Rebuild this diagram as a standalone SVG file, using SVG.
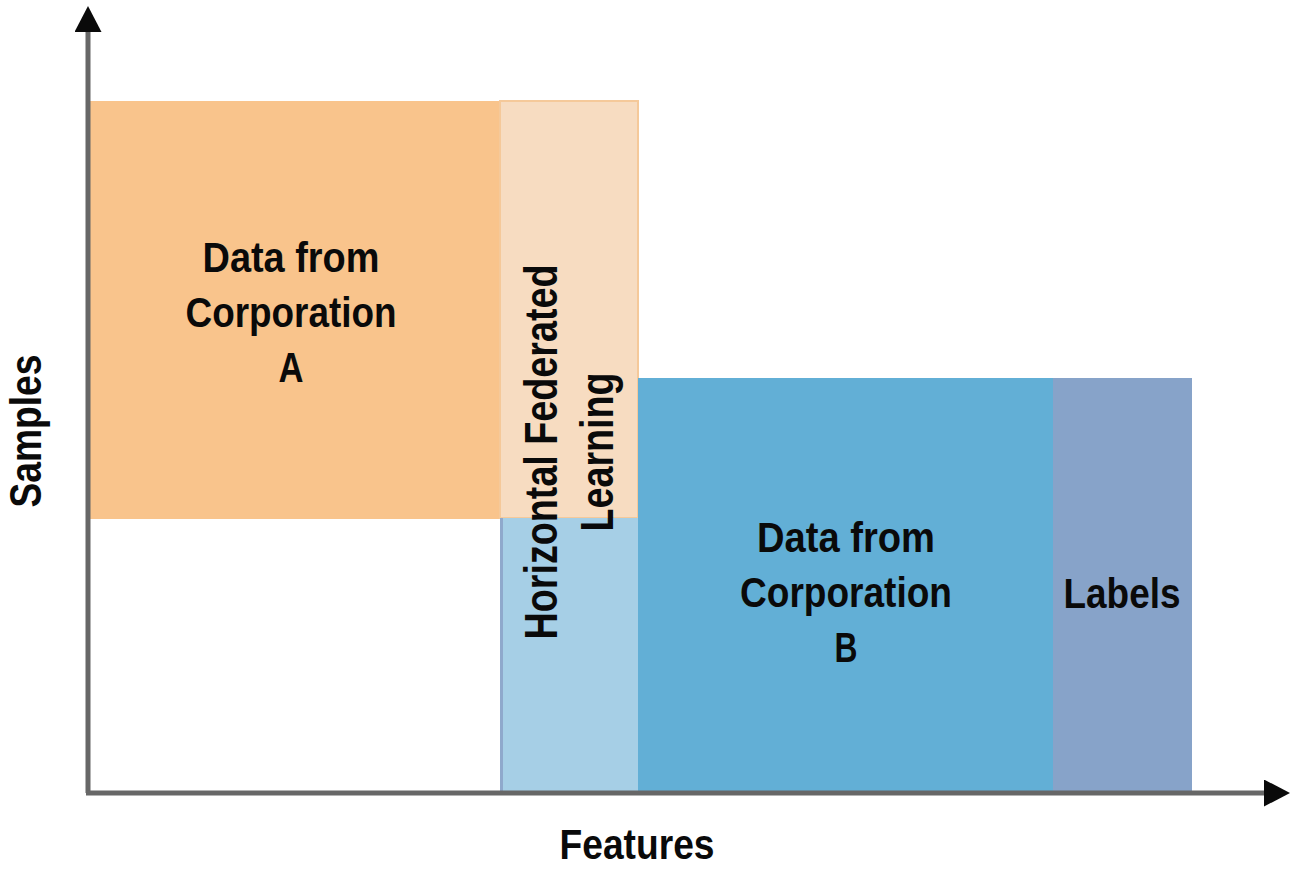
<svg xmlns="http://www.w3.org/2000/svg" width="1296" height="871" viewBox="0 0 1296 871">
  <style>
    .lbl { font-family: "Liberation Sans Narrow", "Liberation Sans", Arial, sans-serif; font-weight: bold; fill: #0a0a0a; text-anchor: middle; }
    .axis { stroke: #676767; stroke-width: 5; fill: none; }
  </style>
  <defs>
    <marker id="arrow" viewBox="0 0 26 27" markerWidth="26" markerHeight="27" refX="1" refY="13.5" orient="auto" markerUnits="userSpaceOnUse">
      <path d="M0,0 L26,13.5 L0,27 Z" fill="#0a0a0a"/>
    </marker>
  </defs>
  <rect width="1296" height="871" fill="#ffffff"/>

  <g id="corp-a">
    <rect x="89" y="101" width="411" height="418" fill="#F9C48C"/>
    <text class="lbl" font-size="43" x="291" y="272" textLength="177" lengthAdjust="spacingAndGlyphs">Data from</text>
    <text class="lbl" font-size="43" x="291" y="327" textLength="211" lengthAdjust="spacingAndGlyphs">Corporation</text>
    <text class="lbl" font-size="43" x="291" y="382" textLength="25" lengthAdjust="spacingAndGlyphs">A</text>
  </g>

  <g id="hfl">
    <rect x="500" y="101" width="138" height="417" fill="#F7DCC1" stroke="#F5C99A" stroke-width="2"/>
    <rect x="500" y="518" width="138" height="275" fill="#A6CFE6"/>
    <line x1="501.5" y1="518" x2="501.5" y2="793" stroke="#8FA9CC" stroke-width="3"/>
    <text class="lbl" font-size="47" transform="translate(557,452) rotate(-90)" x="0" y="0" textLength="375" lengthAdjust="spacingAndGlyphs">Horizontal Federated</text>
    <text class="lbl" font-size="47" transform="translate(613,452) rotate(-90)" x="0" y="0" textLength="159" lengthAdjust="spacingAndGlyphs">Learning</text>
  </g>

  <g id="corp-b">
    <rect x="638" y="378" width="415" height="415" fill="#62AFD6"/>
    <text class="lbl" font-size="43" x="846" y="552" textLength="178" lengthAdjust="spacingAndGlyphs">Data from</text>
    <text class="lbl" font-size="43" x="846" y="607" textLength="212" lengthAdjust="spacingAndGlyphs">Corporation</text>
    <text class="lbl" font-size="43" x="846" y="662" textLength="23" lengthAdjust="spacingAndGlyphs">B</text>
  </g>

  <g id="labels">
    <rect x="1053" y="378" width="139" height="415" fill="#87A3C9"/>
    <text class="lbl" font-size="43" x="1122" y="608" textLength="117" lengthAdjust="spacingAndGlyphs">Labels</text>
  </g>

  <g id="axes">
    <path class="axis" d="M88,793 L88,31" marker-end="url(#arrow)"/>
    <path class="axis" d="M86,793 L1265,793" marker-end="url(#arrow)"/>
  </g>

  <g id="axis-labels">
    <text class="lbl" font-size="45" transform="translate(41,431) rotate(-90)" x="0" y="0" textLength="153" lengthAdjust="spacingAndGlyphs">Samples</text>
    <text class="lbl" font-size="43" x="637" y="859" textLength="155" lengthAdjust="spacingAndGlyphs">Features</text>
  </g>
</svg>
